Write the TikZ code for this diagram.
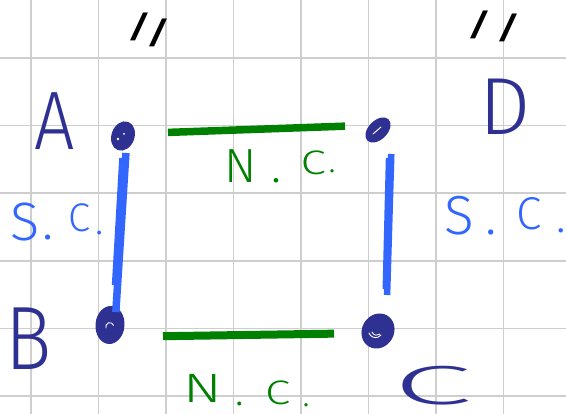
\documentclass[tikz,border=0pt]{standalone}
\usepackage{fontspec}
\setmainfont{Liberation Sans}
% a light sans for the pen lettering, with fallbacks
\IfFontExistsTF{Fira Sans Light}
  {\newfontfamily\hand{Fira Sans Light}}
  {\IfFontExistsTF{FiraSans-Light.ttf}
    {\newfontfamily\hand{FiraSans-Light.ttf}}
    {\newfontfamily\hand{Fira Sans}}}
\usetikzlibrary{shapes.geometric}
\definecolor{ink}{RGB}{46,49,146}
\definecolor{scblue}{RGB}{51,102,255}
\definecolor{ncgreen}{RGB}{0,128,0}
\definecolor{gridgray}{RGB}{206,206,206}
\newcommand\fs[1]{\fontsize{#1}{#1}\selectfont}
% place one glyph at a horizontal offset and a raise, without advancing
\newcommand\gat[3]{\makebox[0pt][l]{\hspace*{#1}\raisebox{#2}{#3}}}
\begin{document}
\begin{tikzpicture}[x=1pt,y=-1pt,
  gridline/.style={gridgray, line width=1.6pt},
  dotnode/.style={ellipse, fill=ink, draw=ink, line width=1pt, inner sep=0pt},
  glint/.style={white, line width=0.9pt, line cap=round},
  nc/.style={ncgreen, line width=7.5pt},
  sc/.style={scblue, line width=7.5pt},
  scthin/.style={scblue, line width=3pt},
  letter/.style={ink, inner sep=0pt, anchor=base west},
  sclabel/.style={scblue, inner sep=0pt, anchor=base west},
  nclabel/.style={ncgreen, inner sep=0pt, anchor=base west},
  tick/.style={black, inner sep=0pt, font=\fs{38}}]
\useasboundingbox (0,0) rectangle (566,414);
\fill[white] (0,0) rectangle (566,414);

% squared paper
\foreach \gx in {31,98.5,166,233.5,301,368.5,436,503.5}
  \draw[gridline] (\gx,0) -- (\gx,414);
\foreach \gy in {58,125.6,193.2,260.8,328.4,396}
  \draw[gridline] (0,\gy) -- (566,\gy);

% terminals
\node[dotnode, minimum width=22pt, minimum height=29pt, rotate=-20] (dA) at (123,136) {};
\node[dotnode, minimum width=18pt, minimum height=29pt, rotate=-45] (dD) at (378,130) {};
\node[dotnode, minimum width=28pt, minimum height=37pt, rotate=-5] (dB) at (110,325) {};
\node[dotnode, minimum width=31pt, minimum height=35pt, rotate=-30] (dC) at (378,331) {};

% little highlights left by the pen
\fill[white] (118,139) circle (1.3pt);
\fill[white] (124,134) circle (1pt);
\draw[glint] (373,134) -- (381,127);
\draw[glint] (106,328) arc (200:20:4pt);
\draw[glint] (369,333) arc (200:320:7pt);
\draw[glint] (372,332) arc (200:310:5pt);

% connectors
\draw[nc, shorten <=45pt, shorten >=33pt] ([yshift=2pt]dA.center) -- ([yshift=5pt]dD.center);
\draw[nc, line width=8pt, shorten <=53pt, shorten >=44pt] ([yshift=-12pt]dB.center) -- ([yshift=-2pt]dC.center);
\draw[sc, shorten <=17pt, shorten >=13pt] ([xshift=4pt]dA.center) -- ([xshift=5pt]dB.center);
\draw[scthin, shorten <=22pt, shorten >=40pt] ([xshift=-1pt]dA.center) -- ([xshift=1pt]dB.center);
\draw[sc, line width=6.5pt, shorten <=24pt, shorten >=36pt] ([xshift=14pt]dD.center) -- ([xshift=8pt]dC.center);
\draw[scthin, shorten <=28pt, shorten >=42pt] ([xshift=10pt]dD.center) -- ([xshift=5pt]dC.center);

% vertex names
\node[letter, font=\hand\fs{83}] (lA) at (34,150) {\scalebox{0.86}[1]{A}};
\node[letter, font=\hand\fs{81}] (lD) at (479,135) {\scalebox{1.0}[1]{D}};
\node[letter, font=\hand\fs{90}] (lB) at (5,370) {\scalebox{0.86}[1]{B}};
\node[letter, font=\hand\fs{55}] (lC) at (393,405) {\scalebox{2.6}[1]{C}};

% edge labels
\node[sclabel, font=\hand] (scL) at (10,241)
  {\gat{0pt}{0pt}{\fs{54}S}\gat{32pt}{1pt}{\fs{54}.}\gat{57.8pt}{9pt}{\fs{40}C}\gat{85.2pt}{6pt}{\fs{40}.}};
\node[sclabel, font=\hand] (scR) at (444,235)
  {\gat{0pt}{0pt}{\fs{55}S}\gat{40.4pt}{0pt}{\fs{55}.}\gat{71.5pt}{5pt}{\fs{46}C}\gat{112pt}{2pt}{\fs{46}.}};
\node[nclabel, font=\hand] (ncT) at (224,183)
  {\gat{0pt}{0pt}{\fs{48}N}\gat{47.2pt}{0pt}{\fs{48}.}\gat{76pt}{8pt}{\fs{34}\scalebox{1.35}[1]{C}}\gat{104pt}{10pt}{\fs{34}.}};
\node[nclabel, font=\hand] (ncB) at (183,403)
  {\gat{0pt}{0pt}{\fs{41}\scalebox{1.4}[1]{N}}\gat{52pt}{-3pt}{\fs{41}.}\gat{81.5pt}{-2pt}{\fs{34}\scalebox{1.35}[1]{C}}\gat{119pt}{-4pt}{\fs{34}.}};

% equal-length ticks
\node[tick] (tL) at (149,30) {\scalebox{1.7}[1]{/\hspace{1pt}\raisebox{-6pt}{/}}};
\node[tick] (tR) at (494,26) {\scalebox{1.7}[1]{/\hspace{7pt}\raisebox{-3pt}{/}}};
\end{tikzpicture}
\end{document}
